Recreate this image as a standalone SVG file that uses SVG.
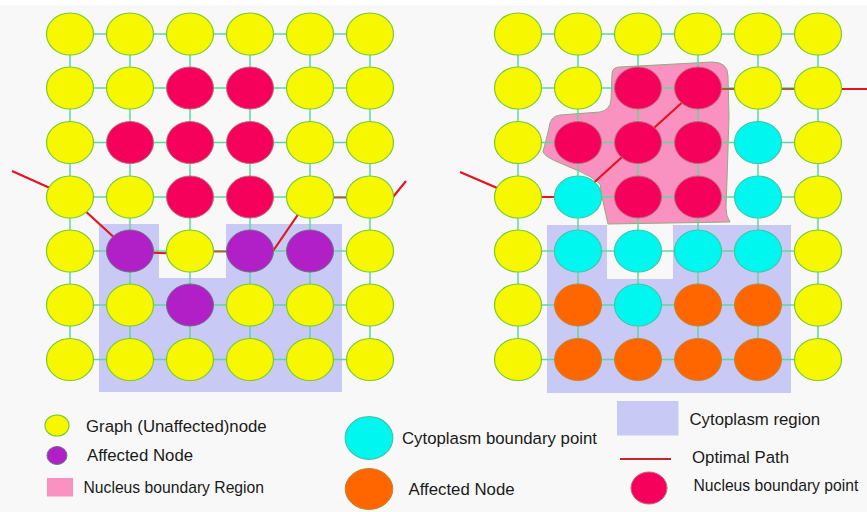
<svg xmlns="http://www.w3.org/2000/svg" width="867" height="512" viewBox="0 0 867 512">
<style>
.y{fill:#f7f700;stroke:#78cc2c;stroke-width:1.2}
.r{fill:#f5005a;stroke:#b8707a;stroke-width:1}
.p{fill:#b11fc6;stroke:#6f6f88;stroke-width:1}
.c{fill:#00f7f0;stroke:#3cc8a8;stroke-width:1.2}
.o{fill:#ff6600;stroke:#b88a3a;stroke-width:1}
.g{stroke:#5fd79a;stroke-width:1.5;fill:none}
.rp{stroke:#e5141e;stroke-width:2.2;fill:none;stroke-linejoin:round}
.bp{stroke:#a8603a;stroke-width:2.2;fill:none}
.cyto{fill:#c9c9f5}
.nuc{fill:#f992c0;stroke:#8fae7d;stroke-width:1}
text{font-family:"Liberation Sans",Arial,sans-serif;fill:#1a1a1a;font-size:16.8px}
.s{font-size:15.7px}
</style>
<rect x="0" y="0" width="867" height="512" fill="#f8f8f8"/>
<rect x="0" y="0" width="867" height="5" fill="#ffffff"/>

<g id="regions">
<path class="cyto" d="M99,224 H159 V278 H226 V224 H342 V392 H99 Z"/>
<path class="cyto" d="M547,225 H607 V279 H673 V225 H791 V393 H547 Z"/>
<path class="nuc" d="M612,74 Q612,67 620,67 L712,62 Q728,62 728,76 L729,117 L727,180 L726,208 Q726,216 730,222 L608,224 L602,197 L600,184 Q591,176 581,172 L560,163 Q545,157 543,152 Q546,140 549,128 Q550,116 560,115 L600,112 Q610,110 611,100 Z"/>
</g>

<g id="connectors">
<g id="grid-left">
<path class="g" d="M70,34H370M70,88H370M70,142.5H370M70,197H370M70,251H370M70,305H370M70,359.5H370"/>
<path class="g" d="M70,34V359.5M130,34V359.5M190,34V359.5M250,34V359.5M310,34V359.5M370,34V359.5"/>
</g>
<g id="grid-right">
<path class="g" d="M518,34H818M518,88H818M518,142.5H818M518,197H818M518,251H818M518,305H818M518,359.5H818"/>
<path class="g" d="M518,34V359.5M578,34V359.5M638,34V359.5M698,34V359.5M758,34V359.5M818,34V359.5"/>
</g>
<g id="path-left">
<path class="rp" d="M12,171 L70,197 L130,252 L190,254"/>
<path class="bp" d="M190,251.5 H252"/>
<path class="rp" d="M252,251 L273,251 L310,197"/>
<path class="bp" d="M310,197.5 H393"/>
<path class="rp" d="M393,197 L406,181"/>
</g>
<g id="path-right">
<path class="rp" d="M460,172 L518,197 L578,197 L638,142.5 L698,88"/>
<path class="bp" d="M698,89 H818"/>
<path class="rp" d="M818,89 H867"/>
</g>
</g>

<g id="nodes-left">
<g id="L11"><ellipse class="y" cx="70" cy="34" rx="23.5" ry="21"/></g>
<g id="L12"><ellipse class="y" cx="130" cy="34" rx="23.5" ry="21"/></g>
<g id="L13"><ellipse class="y" cx="190" cy="34" rx="23.5" ry="21"/></g>
<g id="L14"><ellipse class="y" cx="250" cy="34" rx="23.5" ry="21"/></g>
<g id="L15"><ellipse class="y" cx="310" cy="34" rx="23.5" ry="21"/></g>
<g id="L16"><ellipse class="y" cx="370" cy="34" rx="23.5" ry="21"/></g>
<g id="L21"><ellipse class="y" cx="70" cy="88" rx="23.5" ry="21"/></g>
<g id="L22"><ellipse class="y" cx="130" cy="88" rx="23.5" ry="21"/></g>
<g id="L23"><ellipse class="r" cx="190" cy="88" rx="23.5" ry="21"/></g>
<g id="L24"><ellipse class="r" cx="250" cy="88" rx="23.5" ry="21"/></g>
<g id="L25"><ellipse class="y" cx="310" cy="88" rx="23.5" ry="21"/></g>
<g id="L26"><ellipse class="y" cx="370" cy="88" rx="23.5" ry="21"/></g>
<g id="L31"><ellipse class="y" cx="70" cy="142.5" rx="23.5" ry="21"/></g>
<g id="L32"><ellipse class="r" cx="130" cy="142.5" rx="23.5" ry="21"/></g>
<g id="L33"><ellipse class="r" cx="190" cy="142.5" rx="23.5" ry="21"/></g>
<g id="L34"><ellipse class="r" cx="250" cy="142.5" rx="23.5" ry="21"/></g>
<g id="L35"><ellipse class="y" cx="310" cy="142.5" rx="23.5" ry="21"/></g>
<g id="L36"><ellipse class="y" cx="370" cy="142.5" rx="23.5" ry="21"/></g>
<g id="L41"><ellipse class="y" cx="70" cy="197" rx="23.5" ry="21"/></g>
<g id="L42"><ellipse class="y" cx="130" cy="197" rx="23.5" ry="21"/></g>
<g id="L43"><ellipse class="r" cx="190" cy="197" rx="23.5" ry="21"/></g>
<g id="L44"><ellipse class="r" cx="250" cy="197" rx="23.5" ry="21"/></g>
<g id="L45"><ellipse class="y" cx="310" cy="197" rx="23.5" ry="21"/></g>
<g id="L46"><ellipse class="y" cx="370" cy="197" rx="23.5" ry="21"/></g>
<g id="L51"><ellipse class="y" cx="70" cy="251" rx="23.5" ry="21"/></g>
<g id="L52"><ellipse class="p" cx="130" cy="251" rx="23.5" ry="21"/></g>
<g id="L53"><ellipse class="y" cx="190" cy="251" rx="23.5" ry="21"/></g>
<g id="L54"><ellipse class="p" cx="250" cy="251" rx="23.5" ry="21"/></g>
<g id="L55"><ellipse class="p" cx="310" cy="251" rx="23.5" ry="21"/></g>
<g id="L56"><ellipse class="y" cx="370" cy="251" rx="23.5" ry="21"/></g>
<g id="L61"><ellipse class="y" cx="70" cy="305" rx="23.5" ry="21"/></g>
<g id="L62"><ellipse class="y" cx="130" cy="305" rx="23.5" ry="21"/></g>
<g id="L63"><ellipse class="p" cx="190" cy="305" rx="23.5" ry="21"/></g>
<g id="L64"><ellipse class="y" cx="250" cy="305" rx="23.5" ry="21"/></g>
<g id="L65"><ellipse class="y" cx="310" cy="305" rx="23.5" ry="21"/></g>
<g id="L66"><ellipse class="y" cx="370" cy="305" rx="23.5" ry="21"/></g>
<g id="L71"><ellipse class="y" cx="70" cy="359.5" rx="23.5" ry="21"/></g>
<g id="L72"><ellipse class="y" cx="130" cy="359.5" rx="23.5" ry="21"/></g>
<g id="L73"><ellipse class="y" cx="190" cy="359.5" rx="23.5" ry="21"/></g>
<g id="L74"><ellipse class="y" cx="250" cy="359.5" rx="23.5" ry="21"/></g>
<g id="L75"><ellipse class="y" cx="310" cy="359.5" rx="23.5" ry="21"/></g>
<g id="L76"><ellipse class="y" cx="370" cy="359.5" rx="23.5" ry="21"/></g>
</g>

<g id="nodes-right">
<g id="R11"><ellipse class="y" cx="518" cy="34" rx="23.5" ry="21"/></g>
<g id="R12"><ellipse class="y" cx="578" cy="34" rx="23.5" ry="21"/></g>
<g id="R13"><ellipse class="y" cx="638" cy="34" rx="23.5" ry="21"/></g>
<g id="R14"><ellipse class="y" cx="698" cy="34" rx="23.5" ry="21"/></g>
<g id="R15"><ellipse class="y" cx="758" cy="34" rx="23.5" ry="21"/></g>
<g id="R16"><ellipse class="y" cx="818" cy="34" rx="23.5" ry="21"/></g>
<g id="R21"><ellipse class="y" cx="518" cy="88" rx="23.5" ry="21"/></g>
<g id="R22"><ellipse class="y" cx="578" cy="88" rx="23.5" ry="21"/></g>
<g id="R23"><ellipse class="r" cx="638" cy="88" rx="23.5" ry="21"/></g>
<g id="R24"><ellipse class="r" cx="698" cy="88" rx="23.5" ry="21"/></g>
<g id="R25"><ellipse class="y" cx="758" cy="88" rx="23.5" ry="21"/></g>
<g id="R26"><ellipse class="y" cx="818" cy="88" rx="23.5" ry="21"/></g>
<g id="R31"><ellipse class="y" cx="518" cy="142.5" rx="23.5" ry="21"/></g>
<g id="R32"><ellipse class="r" cx="578" cy="142.5" rx="23.5" ry="21"/></g>
<g id="R33"><ellipse class="r" cx="638" cy="142.5" rx="23.5" ry="21"/></g>
<g id="R34"><ellipse class="r" cx="698" cy="142.5" rx="23.5" ry="21"/></g>
<g id="R35"><ellipse class="c" cx="758" cy="142.5" rx="23.5" ry="21"/></g>
<g id="R36"><ellipse class="y" cx="818" cy="142.5" rx="23.5" ry="21"/></g>
<g id="R41"><ellipse class="y" cx="518" cy="197" rx="23.5" ry="21"/></g>
<g id="R42"><ellipse class="c" cx="578" cy="197" rx="23.5" ry="21"/></g>
<g id="R43"><ellipse class="r" cx="638" cy="197" rx="23.5" ry="21"/></g>
<g id="R44"><ellipse class="r" cx="698" cy="197" rx="23.5" ry="21"/></g>
<g id="R45"><ellipse class="c" cx="758" cy="197" rx="23.5" ry="21"/></g>
<g id="R46"><ellipse class="y" cx="818" cy="197" rx="23.5" ry="21"/></g>
<g id="R51"><ellipse class="y" cx="518" cy="251" rx="23.5" ry="21"/></g>
<g id="R52"><ellipse class="c" cx="578" cy="251" rx="23.5" ry="21"/></g>
<g id="R53"><ellipse class="c" cx="638" cy="251" rx="23.5" ry="21"/></g>
<g id="R54"><ellipse class="c" cx="698" cy="251" rx="23.5" ry="21"/></g>
<g id="R55"><ellipse class="c" cx="758" cy="251" rx="23.5" ry="21"/></g>
<g id="R56"><ellipse class="y" cx="818" cy="251" rx="23.5" ry="21"/></g>
<g id="R61"><ellipse class="y" cx="518" cy="305" rx="23.5" ry="21"/></g>
<g id="R62"><ellipse class="o" cx="578" cy="305" rx="23.5" ry="21"/></g>
<g id="R63"><ellipse class="c" cx="638" cy="305" rx="23.5" ry="21"/></g>
<g id="R64"><ellipse class="o" cx="698" cy="305" rx="23.5" ry="21"/></g>
<g id="R65"><ellipse class="o" cx="758" cy="305" rx="23.5" ry="21"/></g>
<g id="R66"><ellipse class="y" cx="818" cy="305" rx="23.5" ry="21"/></g>
<g id="R71"><ellipse class="y" cx="518" cy="359.5" rx="23.5" ry="21"/></g>
<g id="R72"><ellipse class="o" cx="578" cy="359.5" rx="23.5" ry="21"/></g>
<g id="R73"><ellipse class="o" cx="638" cy="359.5" rx="23.5" ry="21"/></g>
<g id="R74"><ellipse class="o" cx="698" cy="359.5" rx="23.5" ry="21"/></g>
<g id="R75"><ellipse class="o" cx="758" cy="359.5" rx="23.5" ry="21"/></g>
<g id="R76"><ellipse class="y" cx="818" cy="359.5" rx="23.5" ry="21"/></g>
</g>

<g id="legend">
<g id="lg-graph"><ellipse class="y" cx="57" cy="425.5" rx="12" ry="10.5"/><text x="86" y="431.5">Graph (Unaffected)node</text></g>
<g id="lg-affected1"><ellipse class="p" cx="57" cy="455.5" rx="10" ry="9"/><text x="87" y="461">Affected Node</text></g>
<g id="lg-nucregion"><rect x="47" y="478" width="26" height="18.5" fill="#f992c0"/><text class="s" x="83.5" y="493">Nucleus boundary Region</text></g>
<g id="lg-cytopoint"><ellipse class="c" cx="369" cy="438" rx="23.8" ry="21.3"/><text x="402" y="444">Cytoplasm boundary point</text></g>
<g id="lg-affected2"><ellipse class="o" cx="369" cy="489" rx="23.8" ry="20.5"/><text x="408.5" y="495">Affected Node</text></g>
<g id="lg-cytoregion"><rect class="cyto" x="617" y="401" width="61.5" height="34.5"/><text x="689.5" y="425">Cytoplasm region</text></g>
<g id="lg-path"><line x1="620" y1="459" x2="671" y2="459" stroke="#c4282a" stroke-width="1.8"/><text x="692" y="462.5">Optimal Path</text></g>
<g id="lg-nucpoint"><ellipse class="r" cx="649" cy="488" rx="18" ry="16"/><text class="s" x="693.5" y="491">Nucleus boundary point</text></g>
</g>
</svg>
